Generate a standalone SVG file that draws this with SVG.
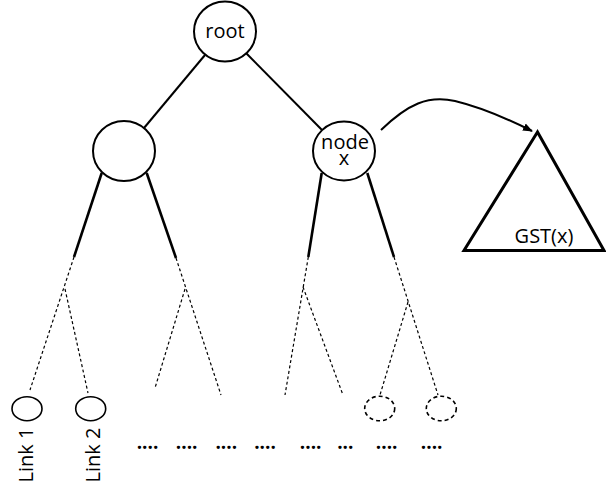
<svg xmlns="http://www.w3.org/2000/svg" width="606" height="486" viewBox="0 0 606 486">
<defs>
<style>
.node{fill:#fff;stroke:#000;stroke-width:2}
.leaf{fill:#fff;stroke:#000;stroke-width:1.6}
.dleaf{fill:#fff;stroke:#000;stroke-width:1.6;stroke-dasharray:4,3}
.edge{stroke:#000;stroke-width:2;fill:none}
.child{stroke:#000;stroke-width:2.6;fill:none}
.dash{stroke:#000;stroke-width:1.2;fill:none;stroke-dasharray:3,2.5}
.lbl{font-family:"Open Sans","Liberation Sans",sans-serif;font-size:20px;fill:#000}
</style>
<marker id="ah" viewBox="0 0 10 10" refX="9" refY="5" markerWidth="10" markerHeight="10" markerUnits="userSpaceOnUse" orient="auto">
<path d="M0,1 L10,5 L0,9 Z" fill="#000"/>
</marker>
</defs>
<rect width="606" height="486" fill="#fff"/>
<g id="connectors">
<line class="edge" x1="205" y1="55" x2="144" y2="128"/>
<line class="edge" x1="246" y1="53" x2="322" y2="130"/>
<line class="child" x1="101.7" y1="173" x2="74" y2="257"/>
<line class="child" x1="146.7" y1="173" x2="176" y2="258"/>
<line class="child" x1="321.7" y1="173" x2="308.3" y2="257"/>
<line class="child" x1="367.3" y1="173" x2="394" y2="257"/>
<line class="dash" x1="74" y1="257" x2="30" y2="390"/>
<line class="dash" x1="65" y1="289" x2="88" y2="393"/>
<line class="dash" x1="176" y1="258" x2="221" y2="395"/>
<line class="dash" x1="185" y1="289" x2="155" y2="388"/>
<line class="dash" x1="308.3" y1="257" x2="285" y2="395"/>
<line class="dash" x1="303" y1="287" x2="343" y2="395"/>
<line class="dash" x1="394" y1="257" x2="438" y2="395"/>
<line class="dash" x1="408" y1="302" x2="380" y2="395"/>
<path class="edge" d="M381,130 C408,104 428,95 455,101 C480,107 510,120 532,131" marker-end="url(#ah)"/>
</g>
<g id="root">
<ellipse class="node" cx="225" cy="31.5" rx="31" ry="30"/>
<text class="lbl" x="225" y="38" text-anchor="middle">root</text>
</g>
<g id="left">
<ellipse class="node" cx="124" cy="151" rx="31" ry="30"/>
</g>
<g id="nodex">
<ellipse class="node" cx="344" cy="151" rx="31" ry="29.5"/>
<text class="lbl" x="345" y="149" text-anchor="middle">node</text>
<text class="lbl" x="344" y="165" text-anchor="middle">x</text>
</g>
<g id="gst">
<polygon points="537.5,132 464,250.5 604,250.5" fill="#fff" stroke="#000" stroke-width="3" stroke-linejoin="miter"/>
<text class="lbl" x="544" y="243" text-anchor="middle">GST(x)</text>
</g>
<g id="leaf1">
<ellipse class="leaf" cx="27" cy="408.7" rx="15" ry="12"/>
<text class="lbl" transform="translate(32.5,455) rotate(-90)" text-anchor="middle">Link 1</text>
</g>
<g id="leaf2">
<ellipse class="leaf" cx="90.7" cy="408.7" rx="15" ry="12"/>
<text class="lbl" transform="translate(100,455) rotate(-90)" text-anchor="middle">Link 2</text>
</g>
<g id="leaf3">
<ellipse class="dleaf" cx="379.7" cy="408.5" rx="15" ry="12.3"/>
</g>
<g id="leaf4">
<ellipse class="dleaf" cx="441.3" cy="408.5" rx="15" ry="12.3"/>
</g>
<g id="dots" class="lbl" style="font-size:19px;font-weight:bold">
<text x="147.5" y="449" text-anchor="middle">....</text>
<text x="186.7" y="449" text-anchor="middle">....</text>
<text x="226.3" y="449" text-anchor="middle">....</text>
<text x="265" y="449" text-anchor="middle">....</text>
<text x="310.7" y="449" text-anchor="middle">....</text>
<text x="345.3" y="449" text-anchor="middle">...</text>
<text x="386.7" y="449" text-anchor="middle">....</text>
<text x="431.7" y="449" text-anchor="middle">....</text>
</g>
</svg>
